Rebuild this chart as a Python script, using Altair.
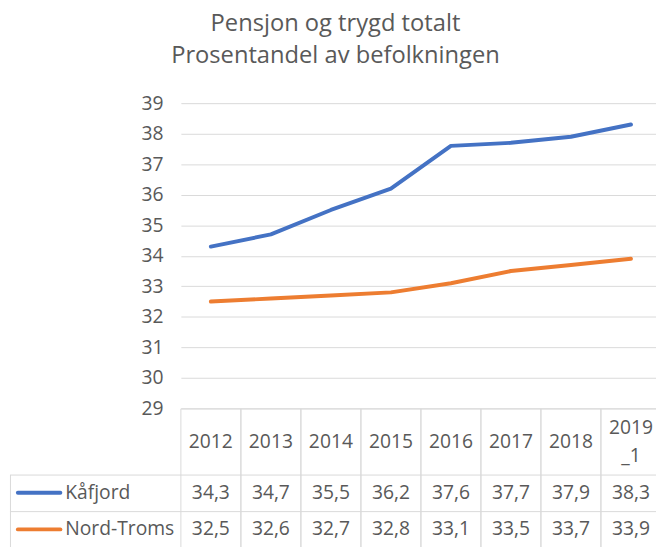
import altair as alt
import pandas as pd

# ---- data ----
years = ["2012", "2013", "2014", "2015", "2016", "2017", "2018", "2019_1"]
series = ["Kåfjord", "Nord-Troms"]
kafjord = [34.3, 34.7, 35.5, 36.2, 37.6, 37.7, 37.9, 38.3]
nord_troms = [32.5, 32.6, 32.7, 32.8, 33.1, 33.5, 33.7, 33.9]
colors = ["#4472C4", "#ED7D31"]
y_ticks = list(range(29, 40))
title_lines = ["Pensjon og trygd totalt", "Prosentandel av befolkningen"]

df = pd.DataFrame({
    "year": years * 2,
    "series": [series[0]] * len(years) + [series[1]] * len(years),
    "value": kafjord + nord_troms,
})
years_df = pd.DataFrame({"year": years})
series_df = pd.DataFrame({"series": series})

# ---- layout / style ----
FONT = "Open Sans"
TXT = "#595959"
GRID = "#d9d9d9"
FS = 19.5
W, H = 481, 446
PLOT_H = 309
X_RANGE = 486
LEFT = -173
HDR_MID = 343
HDR_LH = 28
ROW_TOP = [376.5, 413.5]
ROW_MID = [394.5, 431.5]
BOTTOM = H + 10

xs = alt.Scale(domain=years, range=[0, X_RANGE], paddingInner=0, paddingOuter=0)
cs = alt.Scale(domain=series, range=colors)


def xband(pos):
    return alt.X("year:N", scale=xs, bandPosition=pos, axis=None)


layers = []

# table grid lines
layers.append(alt.Chart(years_df).mark_rule(color=GRID, strokeWidth=1).encode(
    x=xband(0), y=alt.value(PLOT_H + 0.5), y2=alt.value(BOTTOM)))
layers.append(alt.Chart(years_df).mark_rule(color=GRID, strokeWidth=1).encode(
    x=xband(1), y=alt.value(PLOT_H + 0.5), y2=alt.value(BOTTOM)))
first = series_df.head(1)
layers.append(alt.Chart(first).mark_rule(color=GRID, strokeWidth=1).encode(
    x=alt.value(LEFT + 0.5), y=alt.value(ROW_TOP[0]), y2=alt.value(BOTTOM)))
layers.append(alt.Chart(first).mark_rule(color=GRID, strokeWidth=1).encode(
    x=alt.value(0), x2=alt.value(X_RANGE), y=alt.value(PLOT_H + 0.5)))
for yy in ROW_TOP:
    layers.append(alt.Chart(first).mark_rule(color=GRID, strokeWidth=1).encode(
        x=alt.value(LEFT), x2=alt.value(X_RANGE), y=alt.value(yy)))

# lines
layers.append(alt.Chart(df).mark_line(strokeWidth=4, strokeCap="round", strokeJoin="round").encode(
    x=xband(0.5),
    y=alt.Y("value:Q",
            scale=alt.Scale(domain=[29, 39], range=[PLOT_H, 0], nice=False, zero=False),
            axis=alt.Axis(values=y_ticks, title=None, domain=False, ticks=False, tickSize=0,
                          labelPadding=18, labelFont=FONT, labelFontSize=FS, labelColor=TXT,
                          gridColor=GRID, gridWidth=1)),
    color=alt.Color("series:N", scale=cs, legend=None),
))

# header row (years): single-line labels and wrapped labels
layers.append(alt.Chart(years_df).transform_filter(
    "indexof(datum.year, '_') < 0"
).mark_text(font=FONT, fontSize=FS, color=TXT, baseline="middle").encode(
    x=xband(0.5), y=alt.value(HDR_MID), text="year:N"))
layers.append(alt.Chart(years_df).transform_filter(
    "indexof(datum.year, '_') >= 0"
).transform_calculate(
    lbl="replace(datum.year, '_', '\\n_')"
).mark_text(font=FONT, fontSize=FS, color=TXT, lineBreak="\n", baseline="middle",
            lineHeight=HDR_LH).encode(
    x=xband(0.5), y=alt.value(HDR_MID - HDR_LH / 2), text="lbl:N"))

# data rows
for i, s in enumerate(series):
    layers.append(alt.Chart(df).transform_filter(alt.datum.series == s).transform_calculate(
        lbl="replace(format(datum.value, '.1f'), '.', ',')"
    ).mark_text(font=FONT, fontSize=FS, color=TXT, baseline="middle").encode(
        x=xband(0.5), y=alt.value(ROW_MID[i]), text="lbl:N"))
    layers.append(alt.Chart(series_df).transform_filter(alt.datum.series == s).mark_text(
        font=FONT, fontSize=FS, color=TXT, baseline="middle", align="left").encode(
        x=alt.value(-117), y=alt.value(ROW_MID[i]), text="series:N"))
    layers.append(alt.Chart(series_df).transform_filter(alt.datum.series == s).mark_rule(
        strokeWidth=4, strokeCap="round").encode(
        x=alt.value(-165), x2=alt.value(-122), y=alt.value(ROW_MID[i]),
        color=alt.Color("series:N", scale=cs, legend=None)))

chart = alt.layer(*layers).properties(
    width=W, height=H,
    autosize=alt.AutoSizeParams(type="none"),
    padding={"left": 175, "top": 93, "right": 0, "bottom": 0},
    background="white",
    title=alt.Title(title_lines, font=FONT, fontSize=24, color=TXT, fontWeight="normal",
                    anchor="middle", frame="bounds", lineHeight=32.5, offset=26),
).configure_view(stroke=None)

chart.save("out.html", embed_options={"renderer": "svg", "actions": False})
